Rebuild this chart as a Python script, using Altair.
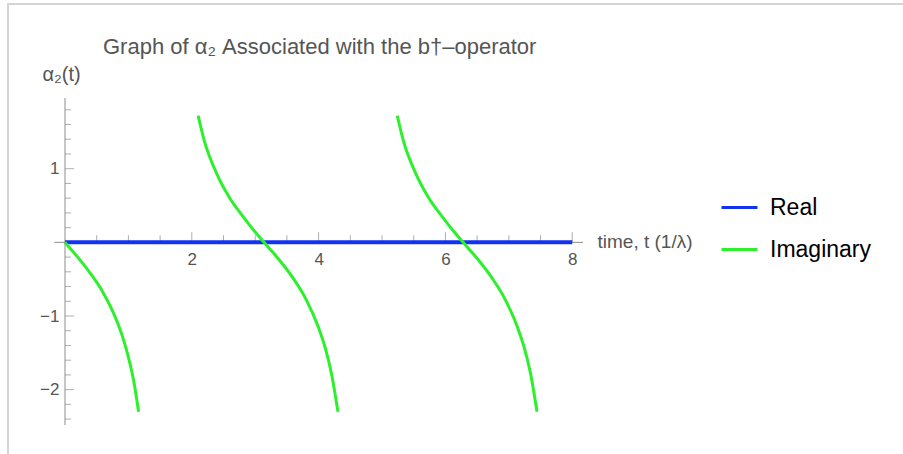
import altair as alt
import pandas as pd

# ---- series values -------------------------------------------------------
REAL_T = [0.0, 8.0]
REAL_V = [0.0, 0.0]

# imaginary part: three branches, each cut off at the plot range
IMAG_T1 = [0.0, 0.2, 0.4, 0.6, 0.8, 0.9, 1.0, 1.05, 1.1, 1.16]
IMAG_V1 = [0.0, -0.20, -0.42, -0.68, -1.03, -1.26, -1.56, -1.74, -1.96, -2.30]
IMAG_T2 = [2.10, 2.2, 2.4, 2.6, 2.8, 3.0, 3.14, 3.2, 3.4, 3.6, 3.8, 4.0, 4.1, 4.2, 4.305]
IMAG_V2 = [1.72, 1.37, 0.92, 0.60, 0.36, 0.14, 0.0, -0.06, -0.26, -0.49, -0.77, -1.16, -1.42, -1.77, -2.30]
IMAG_T3 = [5.24, 5.34, 5.54, 5.74, 5.94, 6.14, 6.28, 6.34, 6.54, 6.74, 6.94, 7.14, 7.24, 7.34, 7.445]
IMAG_V3 = [1.72, 1.37, 0.92, 0.60, 0.36, 0.14, 0.0, -0.06, -0.26, -0.49, -0.77, -1.16, -1.42, -1.77, -2.30]

SERIES = ["Real", "Imaginary"]
TITLE = "Graph of α₂ Associated with the b†–operator"

# ---- axes ------------------------------------------------------------------
X_DOMAIN = [0.0, 8.17]
Y_DOMAIN = [-2.48, 1.96]
X_LINE = [-0.17, 8.17]
X_LABELS = [2, 4, 6, 8]
X_MINOR = [0.5, 1.0, 1.5, 2.5, 3.0, 3.5, 4.5, 5.0, 5.5, 6.5, 7.0, 7.5]
Y_LABELS = [-2, -1, 1]
Y_MINOR = [-2.4, -2.2, -1.8, -1.6, -1.4, -1.2, -0.8, -0.6, -0.4, -0.2,
           0.2, 0.4, 0.6, 0.8, 1.2, 1.4, 1.6, 1.8]

BLUE = "#1232f2"
GREEN = "#2cf02c"
AXIS_GRAY = "#8c8c8c"
TEXT_GRAY = "#555555"
FONT = "Liberation Sans"
W, H = 518, 327

real_df = pd.DataFrame({"t": REAL_T, "v": REAL_V, "series": "Real", "branch": 0})
imag_df = pd.concat([
    pd.DataFrame({"t": IMAG_T1, "v": IMAG_V1, "branch": 1}),
    pd.DataFrame({"t": IMAG_T2, "v": IMAG_V2, "branch": 2}),
    pd.DataFrame({"t": IMAG_T3, "v": IMAG_V3, "branch": 3}),
], ignore_index=True)
imag_df["series"] = "Imaginary"

x_scale = alt.Scale(domain=X_DOMAIN, nice=False, zero=False)
y_scale = alt.Scale(domain=Y_DOMAIN, nice=False, zero=False)

x_enc = alt.X(
    "t:Q", scale=x_scale,
    axis=alt.Axis(
        values=X_LABELS, format="d", grid=False, domain=False, ticks=False, tickSize=0,
        offset=-(H - 144.5), labelPadding=9, labelFontSize=17, labelColor=TEXT_GRAY,
        labelFont=FONT, labelBaseline="top",
        title="time, t (1/λ)", titleFont=FONT, titleFontSize=19,
        titleFontWeight="normal", titleColor=TEXT_GRAY, titleX=W + 14,
        titleY=-1, titleAlign="left", titleBaseline="middle", titleAngle=0,
    ),
)
y_enc = alt.Y(
    "v:Q", scale=y_scale,
    axis=alt.Axis(
        values=Y_LABELS, format="d", grid=False, domain=False, ticks=False, tickSize=0,
        labelPadding=6, labelFontSize=17, labelColor=TEXT_GRAY, labelFont=FONT,
        title="α₂(t)", titleFont=FONT, titleFontSize=20, titleFontWeight="normal",
        titleColor=TEXT_GRAY, titleAngle=0, titleX=-23, titleY=-24,
        titleAlign="left", titleBaseline="middle",
    ),
)
color_enc = alt.Color(
    "series:N",
    scale=alt.Scale(domain=SERIES, range=[BLUE, GREEN]),
    legend=alt.Legend(
        title=None, orient="none", legendX=655, legendY=90,
        symbolType="stroke", symbolSize=1296, symbolStrokeWidth=3,
        labelFont=FONT, labelFontSize=23, labelColor="black",
        labelOffset=11, rowPadding=10, padding=0,
    ),
)

# axis lines
x_axis_line = alt.Chart().mark_rule(color=AXIS_GRAY, strokeWidth=1).encode(
    x=alt.datum(X_LINE[0], scale=x_scale), x2=alt.datum(X_LINE[1]),
    y=alt.datum(0, scale=y_scale),
)
y_axis_line = alt.Chart().mark_rule(color=AXIS_GRAY, strokeWidth=1).encode(
    x=alt.value(0), y=alt.value(0), y2=alt.value(H),
)

# inward ticks
def x_ticks(vals, size):
    df = pd.DataFrame({"t": vals, "v": 0.0})
    return alt.Chart(df).mark_tick(
        orient="vertical", size=size, thickness=1, color=AXIS_GRAY, yOffset=-size / 2
    ).encode(x=alt.X("t:Q", scale=x_scale), y=alt.Y("v:Q", scale=y_scale))

def y_ticks(vals, size):
    df = pd.DataFrame({"t": 0.0, "v": vals})
    return alt.Chart(df).mark_tick(
        orient="horizontal", size=size, thickness=1, color=AXIS_GRAY, xOffset=size / 2
    ).encode(x=alt.X("t:Q", scale=x_scale), y=alt.Y("v:Q", scale=y_scale))

real_line = alt.Chart(real_df).mark_line(strokeWidth=4, strokeCap="butt").encode(
    x=x_enc, y=y_enc, color=color_enc, detail="branch:N",
)
imag_line = alt.Chart(imag_df).mark_line(strokeWidth=3, interpolate="monotone").encode(
    x=alt.X("t:Q", scale=x_scale), y=alt.Y("v:Q", scale=y_scale),
    color=alt.Color("series:N"), detail="branch:N",
)

# plot heading, placed above the plot area
heading = alt.Chart(pd.DataFrame({"label": [TITLE]})).mark_text(
    align="left", baseline="alphabetic", font=FONT, fontSize=22,
    color=TEXT_GRAY,
).encode(x=alt.value(38), y=alt.value(-44), text="label:N")

# light frame around the figure
frame_left = alt.Chart().mark_rule(color="#d4d4d4", strokeWidth=2).encode(
    x=alt.value(-57), y=alt.value(-94), y2=alt.value(H + 40),
)
frame_top = alt.Chart().mark_rule(color="#d4d4d4", strokeWidth=2).encode(
    x=alt.value(-58), x2=alt.value(900), y=alt.value(-94),
)

chart = alt.layer(
    frame_left, frame_top,
    y_axis_line, x_axis_line,
    x_ticks(X_MINOR, 7), x_ticks(X_LABELS, 10),
    y_ticks(Y_MINOR, 6), y_ticks(Y_LABELS, 9),
    real_line, imag_line, heading,
).properties(
    width=W, height=H,
    padding={"left": 65, "top": 98, "right": 320, "bottom": 29},
    autosize=alt.AutoSizeParams(type="none"),
).configure_view(stroke=None)

chart.save("out.html", embed_options={"renderer": "svg", "actions": False})
